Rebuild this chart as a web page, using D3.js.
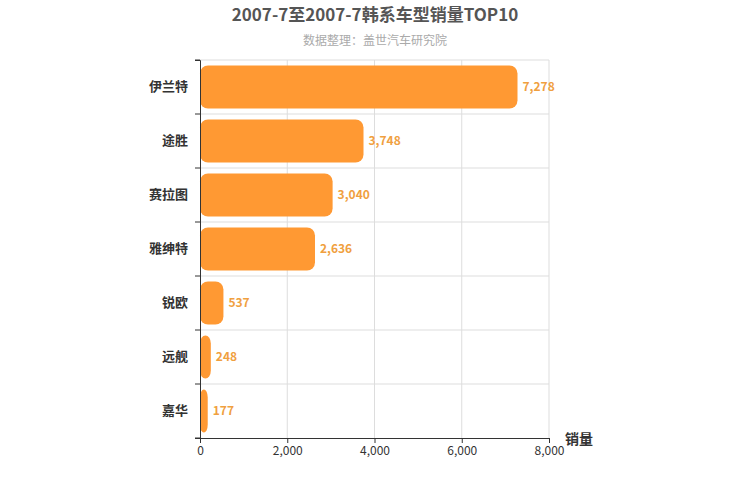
<!DOCTYPE html>
<html><head><meta charset="utf-8">
<script src="https://cdn.jsdelivr.net/npm/d3@7"></script>
<style>body{margin:0;background:#fff}text{font-family:"Noto Sans CJK SC",sans-serif}</style>
</head><body><svg id="c" width="750" height="500"></svg>
<script>
const categories=["伊兰特","途胜","赛拉图","雅绅特","锐欧","远舰","嘉华"];
const values=[7278,3748,3040,2636,537,248,177];
const xTicks=[0,2000,4000,6000,8000];
const svg=d3.select("#c");
const m={l:200,r:549,t:60,b:438};
const x=d3.scaleLinear().domain([0,8000]).range([m.l,m.r]);
const y=d3.scaleBand().domain(categories).range([m.t,m.b]).paddingInner(0.2).paddingOuter(0.1);
const yb=d3.scaleBand().domain(categories).range([m.t,m.b]);
svg.append("text").attr("x",375).attr("y",21).attr("text-anchor","middle").attr("font-size",17).attr("font-weight","bold").attr("fill","#555").text("2007-7至2007-7韩系车型销量TOP10");
svg.append("text").attr("x",375).attr("y",45).attr("text-anchor","middle").attr("font-size",12).attr("fill","#aaa").text("数据整理：盖世汽车研究院");
const g=svg.append("g");
xTicks.slice(1).forEach(t=>g.append("line").attr("x1",x(t)).attr("x2",x(t)).attr("y1",m.t).attr("y2",m.b).attr("stroke","#ddd"));
categories.forEach((c,i)=>{if(i>0)g.append("line").attr("x1",m.l).attr("x2",m.r).attr("y1",yb(c)).attr("y2",yb(c)).attr("stroke","#ddd");});
g.append("line").attr("x1",m.l).attr("x2",m.r).attr("y1",m.t).attr("y2",m.t).attr("stroke","#ddd");
g.selectAll("rect.b").data(values).join("rect").attr("x",m.l).attr("y",(d,i)=>y(categories[i])).attr("width",d=>x(d)-m.l).attr("height",y.bandwidth()).attr("rx",8).attr("fill","#ff9933");
g.selectAll("text.v").data(values).join("text").attr("x",d=>x(d)+5).attr("y",(d,i)=>y(categories[i])+y.bandwidth()/2+4).attr("font-size",12).attr("font-weight","bold").attr("fill","#f0a040").text(d=>d3.format(",")(d));
const ax=svg.append("g").attr("transform",`translate(0,${m.b})`).call(d3.axisBottom(x).tickValues(xTicks).tickFormat(d3.format(",")).tickSize(5));
ax.selectAll("text").attr("font-size",12).attr("fill","#333");ax.select(".domain").attr("stroke","#333");ax.selectAll(".tick line").attr("stroke","#333");
const ay=svg.append("g").attr("transform",`translate(${m.l},0)`).call(d3.axisLeft(yb).tickSize(5));
ay.selectAll("text").attr("font-size",13).attr("font-weight","bold").attr("fill","#333").attr("dx",-4);
ay.select(".domain").attr("stroke","#333");ay.selectAll(".tick line").remove();
categories.forEach((c,i)=>svg.append("line").attr("x1",m.l-5).attr("x2",m.l).attr("y1",yb(c)).attr("y2",yb(c)).attr("stroke","#333"));
svg.append("line").attr("x1",m.l-5).attr("x2",m.l).attr("y1",m.b).attr("y2",m.b).attr("stroke","#333");
svg.append("text").attr("x",565).attr("y",444).attr("font-size",14).attr("font-weight","bold").attr("fill","#333").text("销量");
</script></body></html>
